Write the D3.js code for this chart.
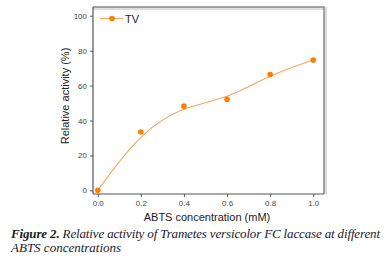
<!doctype html>
<html lang="en">
<head>
<meta charset="utf-8">
<style>
  body { margin: 0; background: #fff; }
  svg text { font-family: "Liberation Sans", Arial, sans-serif; }
</style>
</head>
<body>
<script src="https://d3js.org/d3.v7.min.js"></script>
<div id="chart"></div>
<script>
// data
var concentration = [0.0, 0.2, 0.4, 0.6, 0.8, 1.0];
var activity = [0, 33.4, 48.2, 52.2, 66.3, 74.6];
var xTicks = [0.0, 0.2, 0.4, 0.6, 0.8, 1.0];
var yTicks = [0, 20, 40, 60, 80, 100];
var seriesName = "TV";

var width = 386, height = 265;
var pLeft = 93, pRight = 324, pTop = 7, pBottom = 194;

var svg = d3.select("#chart").append("svg")
    .attr("width", width).attr("height", height);

var x = d3.scaleLinear().domain([-0.022, 1.05]).range([pLeft, pRight]);
var y = d3.scaleLinear().domain([-2.1, 105]).range([pBottom, pTop]);

// frame: top and right gray with soft shadow
svg.append("path")
    .attr("d", "M" + pLeft + "," + (pTop + 1.5) + "H" + (pRight + 1.5) + "V" + pBottom)
    .attr("fill", "none").attr("stroke", "#ddd").attr("stroke-width", 3);
svg.append("path")
    .attr("d", "M" + pLeft + "," + pTop + "H" + pRight + "V" + pBottom)
    .attr("fill", "none").attr("stroke", "#888").attr("stroke-width", 1.5);

// axes
var xAxis = svg.append("g")
    .attr("transform", "translate(0," + pBottom + ")")
    .call(d3.axisBottom(x).tickValues(xTicks).tickFormat(d3.format(".1f")).tickSizeOuter(0).tickSize(3).tickPadding(3));
var yAxis = svg.append("g")
    .attr("transform", "translate(" + pLeft + ",0)")
    .call(d3.axisLeft(y).tickValues(yTicks).tickSizeOuter(0).tickSize(3).tickPadding(3));

[xAxis, yAxis].forEach(function(a) {
  a.select(".domain").attr("stroke", "#555").attr("stroke-width", 1.2);
  a.selectAll(".tick line").attr("stroke", "#555");
  a.selectAll(".tick text").attr("fill", "#444").style("font-size", "8px")
    .style("font-family", "'Liberation Sans', Arial, sans-serif");
});
xAxis.select(".domain").attr("d", "M" + pLeft + ",0H" + pRight);
yAxis.select(".domain").attr("d", "M0," + pBottom + "V" + pTop);

// axis titles
svg.append("text")
    .attr("x", 207).attr("y", 221)
    .attr("text-anchor", "middle")
    .style("font-size", "11px").attr("fill", "#222")
    .text("ABTS concentration (mM)");
svg.append("text")
    .attr("transform", "translate(69,96) rotate(-90)")
    .attr("text-anchor", "middle")
    .style("font-size", "11px").attr("fill", "#222")
    .text("Relative activity (%)");

// smoothed line + points
var pts = concentration.map(function(c, i) { return [c, activity[i]]; });
var line = d3.line()
    .x(function(d) { return x(d[0]); })
    .y(function(d) { return y(d[1]); })
    .curve(d3.curveBasis);
svg.append("path")
    .datum(pts)
    .attr("d", line)
    .attr("fill", "none")
    .attr("stroke", "#f8a660")
    .attr("stroke-width", 1.1);
svg.selectAll("circle.pt")
    .data(pts)
    .enter().append("circle")
    .attr("class", "pt")
    .attr("cx", function(d) { return x(d[0]); })
    .attr("cy", function(d) { return y(d[1]); })
    .attr("r", 2.8)
    .attr("fill", "#ff7f00");

// legend
var lg = svg.append("g");
lg.append("line")
    .attr("x1", 100).attr("x2", 123).attr("y1", 18.5).attr("y2", 18.5)
    .attr("stroke", "#f8a660").attr("stroke-width", 1.1);
lg.append("circle")
    .attr("cx", 112).attr("cy", 18.5).attr("r", 2.8).attr("fill", "#ff7f00");
lg.append("text")
    .attr("x", 125).attr("y", 22.5)
    .style("font-size", "11px").attr("fill", "#222")
    .text(seriesName);

// caption
var cap1 = svg.append("text")
    .attr("x", 11).attr("y", 238)
    .attr("textLength", 369).attr("lengthAdjust", "spacing")
    .style("font-family", "'Liberation Serif', 'Times New Roman', serif")
    .style("font-size", "13px").style("font-style", "italic")
    .attr("fill", "#1a1a2a");
cap1.append("tspan").style("font-weight", "bold").text("Figure 2.");
cap1.append("tspan").text(" Relative activity of Trametes versicolor FC laccase at different");
svg.append("text")
    .attr("x", 11).attr("y", 252)
    .style("font-family", "'Liberation Serif', 'Times New Roman', serif")
    .style("font-size", "13px").style("font-style", "italic")
    .attr("fill", "#1a1a2a")
    .text("ABTS concentrations");
</script>
</body>
</html>
